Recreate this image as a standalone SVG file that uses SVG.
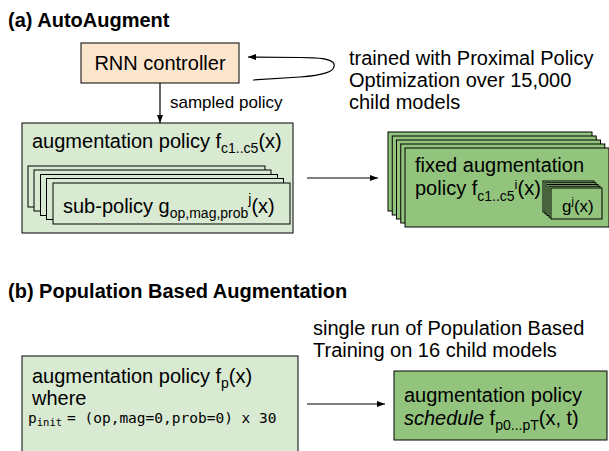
<svg xmlns="http://www.w3.org/2000/svg" width="609" height="451" viewBox="0 0 609 451">
  <style>
    text { font-family: "Liberation Sans", Arial, sans-serif; font-size: 20px; fill: #000; }
    .title { font-weight: bold; }
    .small { font-size: 17px; }
    .sub { font-size: 14px; }
    .mono { font-family: "DejaVu Sans Mono", "Liberation Mono", monospace; font-size: 14.5px; }
    .monosub { font-family: "DejaVu Sans Mono", "Liberation Mono", monospace; font-size: 10.5px; }
    .peach { fill: #fce5cd; stroke: #000; stroke-width: 1; }
    .pale { fill: #d9ead3; stroke: #000; stroke-width: 1; }
    .green { fill: #93c47d; stroke: #000; stroke-width: 1; }
    .wire { fill: none; stroke: #000; stroke-width: 1.2; }
  </style>
  <defs>
    <marker id="arrow" markerUnits="userSpaceOnUse" markerWidth="8" markerHeight="6" refX="8" refY="3" orient="auto">
      <path d="M0,0 L8,3 L0,6 z" fill="#000"/>
    </marker>
  </defs>

  <!-- (a) AutoAugment -->
  <text class="title" x="8" y="27">(a) AutoAugment</text>

  <g id="rnn-controller">
    <rect class="peach" x="81" y="43" width="158" height="40"/>
    <text x="160" y="70" text-anchor="middle">RNN controller</text>
  </g>

  <g id="ppo-note">
    <text x="349" y="65">trained with Proximal Policy</text>
    <text x="349" y="87">Optimization over 15,000</text>
    <text x="349" y="109">child models</text>
  </g>

  <g id="policy-a">
    <rect class="pale" x="22" y="123" width="271" height="110"/>
    <text x="32" y="148">augmentation policy f<tspan class="sub" dy="5">c1..c5</tspan><tspan dy="-5">(x)</tspan></text>
    <g id="sub-policies">
      <rect class="pale" x="28" y="166" width="237" height="41"/>
      <rect class="pale" x="34" y="170" width="237" height="41"/>
      <rect class="pale" x="40.5" y="174.5" width="237" height="41"/>
      <rect class="pale" x="46.5" y="178.5" width="237" height="41"/>
      <rect class="pale" x="53" y="183" width="237" height="41"/>
      <text x="63" y="213">sub-policy g<tspan class="sub" dy="5">op,mag,prob</tspan><tspan class="sub" dy="-14">j</tspan><tspan dy="9">(x)</tspan></text>
    </g>
  </g>

  <g id="fixed-policies">
    <rect class="green" x="388" y="132" width="204" height="79"/>
    <rect class="green" x="392.25" y="136" width="204" height="79"/>
    <rect class="green" x="396.5" y="140" width="204" height="79"/>
    <rect class="green" x="400.75" y="144" width="204" height="79"/>
    <rect class="green" x="405" y="148" width="204" height="79"/>
    <text x="415" y="172">fixed augmentation</text>
    <text x="415" y="195">policy f<tspan class="sub" dy="6">c1..c5</tspan><tspan class="sub" style="font-size:13px" dy="-12">i</tspan><tspan dy="6">(x)</tspan></text>
    <g id="g-stack">
      <rect class="green" x="543" y="181" width="51" height="31"/>
      <rect class="green" x="545" y="182.75" width="51" height="31"/>
      <rect class="green" x="547" y="184.5" width="51" height="31"/>
      <rect class="green" x="549" y="186.25" width="51" height="31"/>
      <rect class="green" x="551" y="188" width="51" height="31"/>
      <text x="562" y="212" style="font-size:17px">g<tspan class="sub" style="font-size:11px" dy="-7">j</tspan><tspan dy="7">(x)</tspan></text>
    </g>
  </g>

  <!-- (b) Population Based Augmentation -->
  <text class="title" x="8" y="298">(b) Population Based Augmentation</text>

  <g id="pbt-note">
    <text x="313" y="335">single run of Population Based</text>
    <text x="313" y="357">Training on 16 child models</text>
  </g>

  <g id="policy-b">
    <rect class="pale" x="22" y="356" width="276" height="100"/>
    <text x="32" y="383">augmentation policy f<tspan class="sub" dy="5">p</tspan><tspan dy="-5">(x)</tspan></text>
    <text x="32" y="405">where</text>
    <text class="mono" x="28" y="423">p<tspan class="monosub" dy="3">init</tspan><tspan x="67" dy="-3">= (op,mag=0,prob=0) x 30</tspan></text>
  </g>

  <g id="schedule">
    <rect class="green" x="394" y="371" width="213" height="69"/>
    <text x="404" y="402">augmentation policy</text>
    <text x="404" y="425"><tspan font-style="italic">schedule</tspan> f<tspan class="sub" dy="5">p0...pT</tspan><tspan dy="-5">(x, t)</tspan></text>
  </g>

  <g id="connectors">
    <path class="wire" d="M253 80 L300 77 C322 75.5 336 72 334 64 C332 58.5 318 57.5 300 57.5 L248 57" marker-end="url(#arrow)"/>
    <line class="wire" x1="160" y1="83" x2="160" y2="123" marker-end="url(#arrow)"/>
    <text class="small" x="170" y="108">sampled policy</text>
    <line class="wire" x1="307" y1="178" x2="378" y2="178" marker-end="url(#arrow)"/>
    <line class="wire" x1="307" y1="404" x2="385" y2="404" marker-end="url(#arrow)"/>
  </g>
</svg>
